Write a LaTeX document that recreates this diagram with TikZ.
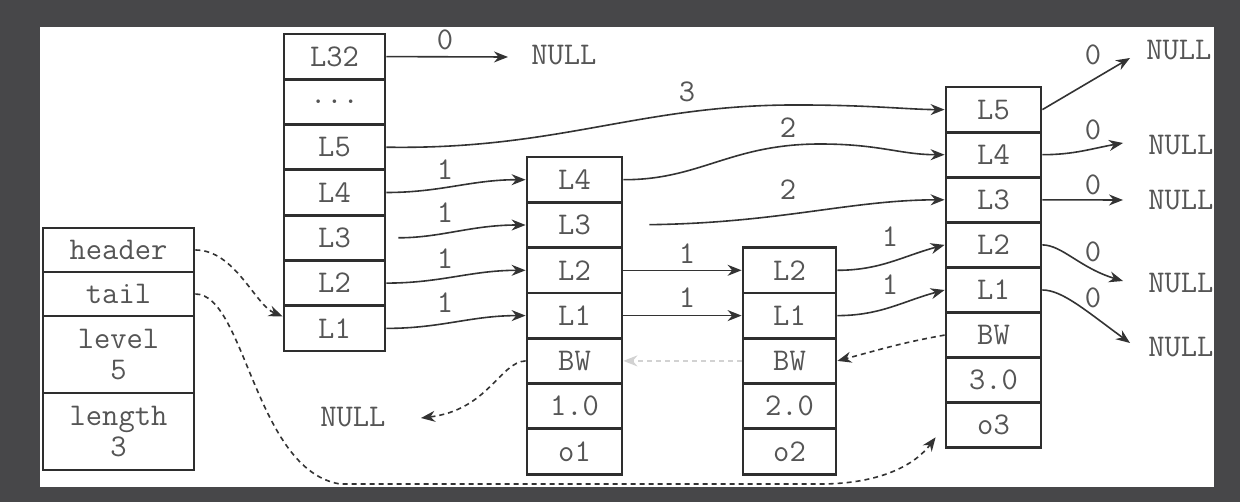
\documentclass[tikz,border=0pt]{standalone}
\usetikzlibrary{arrows.meta}
\definecolor{bgc}{HTML}{474749}
\definecolor{boxc}{HTML}{2E2E2E}
\definecolor{txt}{HTML}{555555}
\definecolor{lnc}{HTML}{333333}
\newcommand\skfont{\ttfamily\fontsize{15.8}{15.5}\selectfont}
\tikzset{
  cell/.style={draw=boxc, line width=1.4pt, inner sep=0pt, minimum height=22.65pt, text=txt, font=\skfont},
  lbl/.style={inner sep=0pt, text=txt, font=\skfont},
  nulltxt/.style={inner sep=0pt, text=txt, font=\skfont, anchor=west},
  conn/.style={draw=lnc, line width=0.8pt, -{Stealth[length=7pt,width=5.5pt]}},
  dsh/.style={conn, dash pattern=on 2.5pt off 2pt},
}
\begin{document}
\begin{tikzpicture}[x=0.5pt,y=-0.5pt]
\useasboundingbox (0,0) rectangle (1240,502);
\fill[bgc] (0,0) rectangle (1240,502);
\fill[white] (40,27) rectangle (1214,487);

% left struct
\node[cell, minimum width=75.5pt, minimum height=22pt] (shdr) at (118.5,250) {header};
\node[cell, minimum width=75.5pt, minimum height=22pt] (stail) at (118.5,294) {tail};
\node[cell, minimum width=75.5pt, minimum height=38.5pt, align=center] (slevel) at (118.5,354.5) {level\\5};
\node[cell, minimum width=75.5pt, minimum height=38.5pt, align=center] (slen) at (118.5,431.5) {length\\3};

% header stack
\node[cell, minimum width=50.5pt] (hL32) at (334.5,56.6) {L32};
\node[cell, minimum width=50.5pt] (hdots) at (334.5,101.9) {...};
\node[cell, minimum width=50.5pt] (hL5) at (334.5,147.2) {L5};
\node[cell, minimum width=50.5pt] (hL4) at (334.5,192.5) {L4};
\node[cell, minimum width=50.5pt] (hL3) at (334.5,237.8) {L3};
\node[cell, minimum width=50.5pt] (hL2) at (334.5,283.1) {L2};
\node[cell, minimum width=50.5pt] (hL1) at (334.5,328.4) {L1};

% node 1
\node[cell, minimum width=47.5pt] (aL4) at (574.5,179.7) {L4};
\node[cell, minimum width=47.5pt] (aL3) at (574.5,225) {L3};
\node[cell, minimum width=47.5pt] (aL2) at (574.5,270.3) {L2};
\node[cell, minimum width=47.5pt] (aL1) at (574.5,315.6) {L1};
\node[cell, minimum width=47.5pt] (aBW) at (574.5,360.9) {BW};
\node[cell, minimum width=47.5pt] (aSc) at (574.5,406.2) {1.0};
\node[cell, minimum width=47.5pt] (aOb) at (574.5,451.5) {o1};

% node 2
\node[cell, minimum width=46.5pt] (bL2) at (789.5,270.3) {L2};
\node[cell, minimum width=46.5pt] (bL1) at (789.5,315.6) {L1};
\node[cell, minimum width=46.5pt] (bBW) at (789.5,360.9) {BW};
\node[cell, minimum width=46.5pt] (bSc) at (789.5,406.2) {2.0};
\node[cell, minimum width=46.5pt] (bOb) at (789.5,451.5) {o2};

% node 3
\node[cell, minimum width=47.5pt, minimum height=22.55pt] (cL5) at (993.5,109.6) {L5};
\node[cell, minimum width=47.5pt, minimum height=22.55pt] (cL4) at (993.5,154.7) {L4};
\node[cell, minimum width=47.5pt, minimum height=22.55pt] (cL3) at (993.5,199.8) {L3};
\node[cell, minimum width=47.5pt, minimum height=22.55pt] (cL2) at (993.5,244.9) {L2};
\node[cell, minimum width=47.5pt, minimum height=22.55pt] (cL1) at (993.5,290) {L1};
\node[cell, minimum width=47.5pt, minimum height=22.55pt] (cBW) at (993.5,335.1) {BW};
\node[cell, minimum width=47.5pt, minimum height=22.55pt] (cSc) at (993.5,380.2) {3.0};
\node[cell, minimum width=47.5pt, minimum height=22.55pt] (cOb) at (993.5,425.3) {o3};

% NULL texts
\node[nulltxt] (null0) at (531,55) {NULL};
\node[nulltxt] (nullB) at (320,417) {NULL};
\node[nulltxt] (null5) at (1146,50) {NULL};
\node[nulltxt] (null4) at (1148,145) {NULL};
\node[nulltxt] (null3) at (1148,200) {NULL};
\node[nulltxt] (null2) at (1148,283) {NULL};
\node[nulltxt] (null1) at (1148,347) {NULL};

% free ends
\coordinate (t0) at (508,57);
\coordinate (t5) at (1130,58);
\coordinate (t4) at (1123,143);
\coordinate (t3) at (1123,200);
\coordinate (t2) at (1123,281);
\coordinate (t1) at (1130,343);
\coordinate (tB) at (421,418);

% level pointers
\draw[conn] (hL32.east) -- (t0);
\draw[conn] (hL5.east) .. controls (560,150) and (640,104) .. (800,105) .. controls (870,105) and (910,109.6) .. (cL5.west);
\draw[conn] (hL4.east) to[out=0,in=180] (aL4.west);
\draw[conn, shorten <=6pt] (hL3.east) to[out=0,in=180] (aL3.west);
\draw[conn] (hL2.east) to[out=0,in=180] (aL2.west);
\draw[conn] (hL1.east) to[out=0,in=180] (aL1.west);
\draw[conn] (aL4.east) .. controls (700,180) and (730,144) .. (820,144) .. controls (880,144) and (900,154.7) .. (cL4.west);
\draw[conn, shorten <=13pt] (aL3.east) .. controls (780,223) and (850,200) .. (cL3.west);
\draw[conn] (aL2.east) -- (bL2.west);
\draw[conn] (aL1.east) -- (bL1.west);
\draw[conn] (bL2.east) to[out=0,in=195] (cL2.west);
\draw[conn] (bL1.east) to[out=0,in=195] (cL1.west);
\draw[conn] (cL5.east) -- (t5);
\draw[conn] (cL4.east) to[out=0,in=190] (t4);
\draw[conn] (cL3.east) -- (t3);
\draw[conn] (cL2.east) .. controls (1062,245) and (1080,268) .. (t2);
\draw[conn] (cL1.east) .. controls (1062,290) and (1085,310) .. (t1);

% backward pointers
\draw[dsh] (cBW.west) to[out=190,in=15] (bBW.east);
\draw[dsh, draw=gray!35] (bBW.west) -- (aBW.east);
\draw[dsh] (aBW.west) .. controls (500,362) and (488,410) .. (tB);

% header / tail
\draw[dsh] (shdr.east) .. controls (235,250) and (255,305) .. ([yshift=6pt]hL1.west);
\draw[dsh] (stail.east) .. controls (245,294) and (255,470) .. (340,484) -- (820,484) .. controls (880,484) and (915,465) .. ([xshift=-4.5pt,yshift=-6pt]cOb.west);

% labels
\node[lbl] (w0) at (445,40) {0};
\node[lbl] (w3) at (687,92) {3};
\node[lbl] (w2a) at (788,128) {2};
\node[lbl] (w2b) at (788,190) {2};
\node[lbl] (w1a) at (445,170) {1};
\node[lbl] (w1b) at (445,213) {1};
\node[lbl] (w1c) at (445,259) {1};
\node[lbl] (w1d) at (445,303) {1};
\node[lbl] (w1e) at (687,254) {1};
\node[lbl] (w1f) at (687,298) {1};
\node[lbl] (w1g) at (890,237) {1};
\node[lbl] (w1h) at (890,285) {1};
\node[lbl] (z5) at (1093,55) {0};
\node[lbl] (z4) at (1093,130) {0};
\node[lbl] (z3) at (1093,185) {0};
\node[lbl] (z2) at (1093,252) {0};
\node[lbl] (z1) at (1093,298) {0};

% right edge clip
\fill[bgc] (1214,27) rectangle (1240,487);
\end{tikzpicture}
\end{document}
